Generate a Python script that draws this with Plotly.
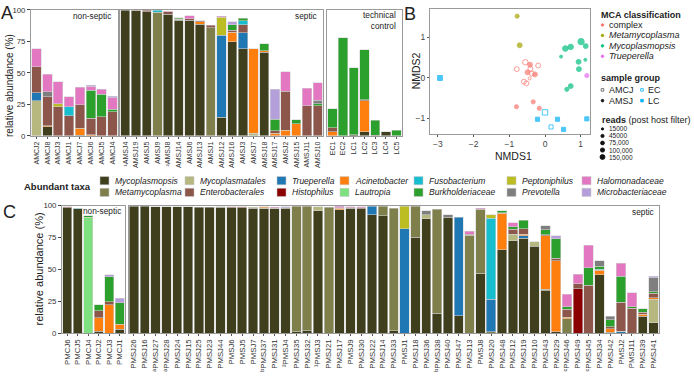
import plotly.graph_objects as go

W, H = 694, 376
FONT = "Liberation Sans, Arial, Helvetica, sans-serif"

def px(x):
    return x / W

def py(y):
    return 1 - y / H

# ---------------- taxa ----------------
STACK_ORDER = ["Mycoplasmopsis", "Metamycoplasma", "Mycoplasmatales", "Trueperella", "Histophilus",
               "Acinetobacter", "Enterobacterales", "Fusobacterium", "Lautropia", "Burkholderiaceae",
               "Peptoniphilus", "Prevotella", "Halomonadaceae", "Microbacteriaceae"]
TAXON_COLORS = {
    "Mycoplasmopsis": "#3f3f1e", "Metamycoplasma": "#7f7f4c", "Mycoplasmatales": "#b6b880",
    "Enterobacterales": "#8c564b", "Trueperella": "#1f77b4", "Histophilus": "#8b0000",
    "Acinetobacter": "#ff7f0e", "Lautropia": "#7fe07f", "Fusobacterium": "#17becf",
    "Burkholderiaceae": "#2ca02c", "Peptoniphilus": "#bcbd22", "Prevotella": "#7f7f7f",
    "Halomonadaceae": "#e377c2", "Microbacteriaceae": "#b59fdb",
}
LEGEND_ROW1 = ["Mycoplasmopsis", "Mycoplasmatales", "Trueperella", "Acinetobacter", "Fusobacterium", "Peptoniphilus", "Halomonadaceae"]
LEGEND_ROW2 = ["Metamycoplasma", "Enterobacterales", "Histophilus", "Lautropia", "Burkholderiaceae", "Prevotella", "Microbacteriaceae"]

# ---------------- panel A data ----------------
A_nonseptic_samples = ["AMCJ2", "AMCJ8", "AMCJ3", "AMCJ1", "AMCJ7", "AMCJ6", "AMCJ5", "AMCJ4"]
A_nonseptic_comp = [
    {"Mycoplasmatales": 28, "Trueperella": 6, "Enterobacterales": 21, "Halomonadaceae": 14},
    {"Mycoplasmopsis": 7, "Acinetobacter": 0.8, "Enterobacterales": 23, "Prevotella": 4, "Halomonadaceae": 14},
    {"Enterobacterales": 23, "Peptoniphilus": 2.5, "Halomonadaceae": 17.5},
    {"Enterobacterales": 16, "Fusobacterium": 7, "Halomonadaceae": 8},
    {"Mycoplasmopsis": 0.5, "Acinetobacter": 5.5, "Enterobacterales": 18.5, "Halomonadaceae": 14},
    {"Acinetobacter": 1, "Enterobacterales": 13, "Burkholderiaceae": 22, "Halomonadaceae": 3.5, "Microbacteriaceae": 0.5},
    {"Enterobacterales": 15, "Burkholderiaceae": 18, "Halomonadaceae": 4},
    {"Enterobacterales": 19, "Burkholderiaceae": 2, "Halomonadaceae": 9, "Microbacteriaceae": 1.5},
]
A_septic_samples = ["¹AMSJ4", "AMSJ19", "AMSJ5", "AMSJ9", "²AMSJ8", "AMSJ14", "AMSJ6", "AMSJ13", "AMSJ1", "AMSJ12",
                    "AMSJ16", "AMSJ3", "AMSJ7", "AMSJ18", "AMSJ17", "AMSJ2", "AMSJ15", "AMSJ11", "AMSJ10"]
A_septic_comp = [
    {"Mycoplasmopsis": 99.5},
    {"Mycoplasmopsis": 99.2, "Enterobacterales": 0.5},
    {"Mycoplasmopsis": 98.5, "Enterobacterales": 1.0},
    {"Metamycoplasma": 98.2, "Fusobacterium": 1.5},
    {"Mycoplasmopsis": 96.5, "Enterobacterales": 2, "Halomonadaceae": 0.5},
    {"Mycoplasmopsis": 91.8, "Mycoplasmatales": 0.8, "Enterobacterales": 0.5, "Burkholderiaceae": 0.8},
    {"Mycoplasmopsis": 91.8, "Enterobacterales": 1, "Halomonadaceae": 2.5},
    {"Mycoplasmopsis": 88.4, "Acinetobacter": 2.3, "Enterobacterales": 0.5},
    {"Metamycoplasma": 85.8, "Enterobacterales": 2},
    {"Mycoplasmopsis": 14.7, "Trueperella": 65.2, "Peptoniphilus": 14.2, "Halomonadaceae": 0.8},
    {"Mycoplasmopsis": 74.7, "Acinetobacter": 7.5, "Enterobacterales": 1.5, "Burkholderiaceae": 4.5, "Microbacteriaceae": 2.5},
    {"Mycoplasmopsis": 69, "Trueperella": 12.7, "Enterobacterales": 6.4, "Fusobacterium": 3.4, "Burkholderiaceae": 1.8},
    {"Mycoplasmatales": 2, "Acinetobacter": 67},
    {"Mycoplasmopsis": 66.2, "Acinetobacter": 1.3, "Burkholderiaceae": 5.4},
    {"Acinetobacter": 2, "Enterobacterales": 2, "Burkholderiaceae": 9, "Microbacteriaceae": 24},
    {"Acinetobacter": 4.4, "Enterobacterales": 31, "Halomonadaceae": 15.5},
    {"Acinetobacter": 9.5, "Burkholderiaceae": 3.3},
    {"Enterobacterales": 23.7, "Halomonadaceae": 14.2},
    {"Enterobacterales": 23.7, "Burkholderiaceae": 1.8, "Prevotella": 2.8, "Halomonadaceae": 14},
]
A_control_samples = ["EC1", "EC2", "LC1", "LC2", "LC3", "LC4", "LC5"]
A_control_comp = [
    {"Acinetobacter": 3, "Enterobacterales": 3.2, "Burkholderiaceae": 15.2},
    {"Burkholderiaceae": 77.8},
    {"Mycoplasmopsis": 1, "Burkholderiaceae": 53},
    {"Mycoplasmopsis": 3, "Acinetobacter": 25, "Enterobacterales": 0.5, "Burkholderiaceae": 40},
    {"Mycoplasmopsis": 0.5, "Burkholderiaceae": 11.7},
    {"Mycoplasmopsis": 3.1},
    {"Burkholderiaceae": 4.4},
]

# ---------------- panel C data ----------------
C_nonseptic_samples = ["PMCJ6", "PMCJ5", "PMCJ4", "PMCJ2", "PMCJ3", "PMCJ1"]
C_nonseptic_comp = [
    {"Mycoplasmopsis": 98.3, "Enterobacterales": 1},
    {"Mycoplasmopsis": 97.5, "Fusobacterium": 0.5},
    {"Lautropia": 91, "Burkholderiaceae": 1},
    {"Mycoplasmopsis": 1.5, "Acinetobacter": 10.5, "Enterobacterales": 5.5, "Burkholderiaceae": 4.7},
    {"Acinetobacter": 22.4, "Enterobacterales": 2.3, "Burkholderiaceae": 19.7, "Microbacteriaceae": 1.5},
    {"Mycoplasmopsis": 3.3, "Acinetobacter": 3.8, "Burkholderiaceae": 16.9, "Microbacteriaceae": 3.3},
]
C_septic_samples = ["PMSJ26", "PMSJ16", "ᵃPMSJ27", "ᵃPMSJ28", "PMSJ24", "PMSJ15", "PMSJ25", "PMSJ23", "PMSJ44",
                    "PMSJ6", "PMSJ5", "PMSJ7", "ᵇPMSJ37", "PMSJ31", "²PMSJ4", "PMSJ35", "PMSJ32", "¹PMSJ3",
                    "PMSJ21", "PMSJ17", "PMSJ9", "PMSJ30", "PMSJ22", "PMSJ14", "PMSJ33", "PMSJ1", "PMSJ18",
                    "PMSJ36", "ᵇPMSJ38", "PMSJ40", "PMSJ47", "PMSJ13", "PMSJ8", "PMSJ20", "PMSJ48", "PMSJ12",
                    "PMSJ19", "PMSJ10", "PMSJ43", "PMSJ29", "ᶜPMSJ46", "PMSJ49", "ᶜPMSJ45", "PMSJ34", "PMSJ42",
                    "PMSJ2", "PMSJ11", "PMSJ39", "PMSJ41"]
C_septic_comp = [
    {"Mycoplasmopsis": 99.5},
    {"Mycoplasmopsis": 99.5},
    {"Mycoplasmopsis": 99.3},
    {"Mycoplasmopsis": 99.3},
    {"Mycoplasmopsis": 99.2},
    {"Mycoplasmopsis": 99.2},
    {"Mycoplasmopsis": 99.0},
    {"Mycoplasmopsis": 99.0},
    {"Mycoplasmopsis": 98.8, "Enterobacterales": 0.4},
    {"Mycoplasmopsis": 98.6, "Enterobacterales": 0.6},
    {"Mycoplasmopsis": 98.6, "Enterobacterales": 0.5},
    {"Mycoplasmopsis": 98.0, "Mycoplasmatales": 1.0},
    {"Mycoplasmopsis": 97.8, "Mycoplasmatales": 0.8, "Acinetobacter": 0.5},
    {"Mycoplasmopsis": 97.5, "Enterobacterales": 0.5, "Halomonadaceae": 1.0},
    {"Mycoplasmopsis": 98.0, "Trueperella": 0.6, "Microbacteriaceae": 0.5},
    {"Mycoplasmopsis": 1, "Metamycoplasma": 98.8},
    {"Mycoplasmopsis": 2, "Metamycoplasma": 97.5},
    {"Mycoplasmopsis": 96.0, "Mycoplasmatales": 3.2},
    {"Metamycoplasma": 99},
    {"Mycoplasmopsis": 97.0, "Acinetobacter": 1.0, "Burkholderiaceae": 0.5, "Halomonadaceae": 1.0},
    {"Mycoplasmopsis": 98.0, "Acinetobacter": 0.4, "Halomonadaceae": 1.0},
    {"Mycoplasmopsis": 97.8, "Enterobacterales": 0.8, "Halomonadaceae": 0.8},
    {"Mycoplasmopsis": 93.1, "Trueperella": 6.4},
    {"Mycoplasmopsis": 92.3, "Metamycoplasma": 7.2},
    {"Mycoplasmopsis": 2, "Metamycoplasma": 96},
    {"Trueperella": 82, "Peptoniphilus": 17.5},
    {"Mycoplasmopsis": 75.3, "Metamycoplasma": 24.2},
    {"Mycoplasmopsis": 89.8, "Mycoplasmatales": 3.3, "Prevotella": 2.8},
    {"Mycoplasmopsis": 15.8, "Metamycoplasma": 81.4},
    {"Mycoplasmopsis": 90.8, "Prevotella": 2.1},
    {"Mycoplasmopsis": 13.8, "Trueperella": 77.2},
    {"Metamycoplasma": 77, "Enterobacterales": 0.8, "Halomonadaceae": 2.2},
    {"Mycoplasmopsis": 47.2, "Metamycoplasma": 50, "Halomonadaceae": 0.8},
    {"Metamycoplasma": 1, "Trueperella": 25.5, "Fusobacterium": 63.8, "Peptoniphilus": 2.5},
    {"Mycoplasmopsis": 65.6, "Acinetobacter": 28.4, "Enterobacterales": 0.5, "Burkholderiaceae": 1.7},
    {"Mycoplasmopsis": 72.7, "Mycoplasmatales": 4.9, "Enterobacterales": 3.8, "Burkholderiaceae": 2, "Halomonadaceae": 3.3},
    {"Mycoplasmopsis": 74.7, "Trueperella": 1.8, "Acinetobacter": 1.3, "Enterobacterales": 4.3, "Burkholderiaceae": 6.4},
    {"Mycoplasmopsis": 68.1, "Mycoplasmatales": 3.8},
    {"Mycoplasmopsis": 33.2, "Metamycoplasma": 1.2, "Acinetobacter": 42.1, "Enterobacterales": 0.8, "Burkholderiaceae": 3.8, "Prevotella": 3.1},
    {"Mycoplasmopsis": 1, "Acinetobacter": 56, "Enterobacterales": 2, "Burkholderiaceae": 15.3, "Microbacteriaceae": 2},
    {"Metamycoplasma": 11.2, "Acinetobacter": 1.3, "Enterobacterales": 6.4, "Burkholderiaceae": 2, "Halomonadaceae": 9.5},
    {"Histophilus": 35, "Enterobacterales": 3.8, "Halomonadaceae": 7.6},
    {"Enterobacterales": 37.5, "Burkholderiaceae": 14, "Halomonadaceae": 17.4},
    {"Mycoplasmopsis": 45.7, "Acinetobacter": 3.8, "Fusobacterium": 0.7, "Burkholderiaceae": 2.5, "Prevotella": 4.1},
    {"Mycoplasmopsis": 0.8, "Acinetobacter": 2.8, "Enterobacterales": 1.5, "Burkholderiaceae": 5.6, "Prevotella": 2.6},
    {"Trueperella": 1, "Acinetobacter": 0.5, "Enterobacterales": 22.7, "Burkholderiaceae": 20.5, "Halomonadaceae": 10.2},
    {"Enterobacterales": 19.6, "Burkholderiaceae": 1.3, "Halomonadaceae": 10.7},
    {"Mycoplasmopsis": 13.3, "Acinetobacter": 1.7, "Enterobacterales": 1.6, "Burkholderiaceae": 2.5},
    {"Mycoplasmopsis": 8.2, "Mycoplasmatales": 18.6, "Acinetobacter": 1, "Enterobacterales": 3.6, "Burkholderiaceae": 1, "Prevotella": 11, "Microbacteriaceae": 1.2},
]

# ---------------- panel B data ----------------
MCA_CLASSES = ["complex", "Metamycoplasma", "Mycoplasmopsis", "Trueperella"]
MCA_COLORS = {"complex": "#f8766d", "Metamycoplasma": "#a3a500", "Mycoplasmopsis": "#00bf7d",
              "Trueperella": "#e76bf3", "control": "#00b0f6"}
nmds1 = [-0.78, -0.71,
         0.57, 0.72, 1.01, 1.14, 0.45, 1.13, 0.94, 0.95, 0.72, 0.61,
         1.17,
         -0.42, -0.49, -0.28, -0.33, -0.80, -0.16,
         -0.55, -0.19, -0.79, -0.41, -0.37, -0.59, -0.52, -0.43,
         0.00, 0.17,
         -2.94, -0.21, 0.35, 0.52, 1.17]
nmds2 = [1.52, 0.80,
         0.72, 0.76, 0.89, 0.78, 0.52, 0.44, 0.39, 0.21, -0.21, -0.29,
         0.05,
         0.32, 0.13, 0.08, -0.60, -0.72, -0.76,
         0.38, 0.30, 0.21, 0.22, 0.10, -0.10, -0.14, -0.02,
         -0.86, -1.22,
         -0.01, -1.03, -1.03, -1.28, -1.02]
nmds_class = (["Metamycoplasma"] * 2 + ["Mycoplasmopsis"] * 10 + ["Trueperella"] + ["complex"] * 6
              + ["complex"] * 8 + ["control"] * 2 + ["control"] * 5)
nmds_group = (["AMSJ"] * 19 + ["AMCJ"] * 8 + ["EC"] * 2 + ["LC"] * 5)
nmds_reads = [45000, 75000,
              110000, 100000, 150000, 75000, 15000, 15000, 75000, 75000, 75000, 45000,
              45000,
              75000, 75000, 75000, 45000, 45000, 45000,
              100000, 75000, 75000, 75000, 75000, 75000, 75000, 15000,
              100000, 45000,
              75000, 45000, 45000, 45000, 45000]
READ_LEVELS = [15000, 45000, 75000, 100000, 150000]
READ_LABELS = ["15000", "45000", "75,000", "100,000", "150,000"]
GROUP_SYMBOL = {"AMCJ": "circle-open", "AMSJ": "circle", "EC": "square-open", "LC": "square"}


def read_size(r):
    return 1.5 + 4.8 * (r / 150000) ** 0.5


fig = go.Figure()


def add_bars(samples, comps, xa, ya):
    for t in STACK_ORDER:
        vals = [c.get(t) for c in comps]
        if all(v is None for v in vals):
            continue
        fig.add_trace(go.Bar(
            x=samples, y=vals, xaxis=xa, yaxis=ya, showlegend=False, hoverinfo="skip",
            marker=dict(color=TAXON_COLORS[t], line=dict(color="rgba(210,210,210,0.9)", width=0.6)),
        ))


add_bars(A_nonseptic_samples, A_nonseptic_comp, "x", "y")
add_bars(A_septic_samples, A_septic_comp, "x2", "y2")
add_bars(A_control_samples, A_control_comp, "x3", "y3")
add_bars(C_nonseptic_samples, C_nonseptic_comp, "x5", "y5")
add_bars(C_septic_samples, C_septic_comp, "x6", "y6")

# NMDS scatter
fig.add_trace(go.Scatter(
    x=nmds1, y=nmds2, xaxis="x4", yaxis="y4", mode="markers", showlegend=False, hoverinfo="skip",
    marker=dict(color=[MCA_COLORS[c] for c in nmds_class],
                symbol=[GROUP_SYMBOL[g] for g in nmds_group],
                size=[read_size(r) for r in nmds_reads],
                line=dict(width=1, color=[MCA_COLORS[c] for c in nmds_class])),
))

tickfont_xa = dict(family=FONT, size=7, color="#333")
tickfont_xc = dict(family=FONT, size=7.8, color="#333")
tickfont_y = dict(family=FONT, size=7.8, color="#333")
FRAME = "#9a9a9a"


def bar_x(domain, samples, font):
    return dict(domain=domain, type="category", categoryorder="array", categoryarray=samples,
                tickangle=-90, tickfont=font, showline=True, linecolor=FRAME, linewidth=1, mirror=True,
                ticks="outside", ticklen=2, tickcolor="#555", showgrid=False, zeroline=False, fixedrange=True)


def bar_y(domain, anchor, labels=True):
    return dict(domain=domain, anchor=anchor, range=[0, 100], tickvals=[0, 25, 50, 75, 100],
                showticklabels=labels, ticks="outside" if labels else "", ticklen=3, tickcolor="#444",
                tickfont=tickfont_y, showline=True, linecolor=FRAME, linewidth=1, mirror=True,
                showgrid=False, zeroline=False, fixedrange=True)


A_dom = [py(135), py(6)]
C_dom = [py(337.3), py(206.7)]
fig.update_layout(
    width=W, height=H, margin=dict(l=0, r=0, t=0, b=0),
    paper_bgcolor="white", plot_bgcolor="white",
    barmode="stack", bargap=0.13,
    font=dict(family=FONT, color="#222"),
    xaxis=dict(**bar_x([px(31), px(118)], A_nonseptic_samples, tickfont_xa), anchor="y"),
    yaxis=bar_y(A_dom, "x"),
    xaxis2=dict(**bar_x([px(120), px(323)], A_septic_samples, tickfont_xa), anchor="y2"),
    yaxis2=bar_y(A_dom, "x2", False),
    xaxis3=dict(**bar_x([px(327), px(402)], A_control_samples, tickfont_xa), anchor="y3"),
    yaxis3=bar_y(A_dom, "x3", False),
    xaxis5=dict(**bar_x([px(62), px(125)], C_nonseptic_samples, tickfont_xc), anchor="y5"),
    yaxis5=bar_y(C_dom, "x5"),
    xaxis6=dict(**bar_x([px(128.5), px(659)], C_septic_samples, tickfont_xc), anchor="y6"),
    yaxis6=bar_y(C_dom, "x6", False),
    xaxis4=dict(domain=[px(430), px(590)], anchor="y4", range=[-3.22, 1.26], tickvals=[-3, -2, -1, 0, 1],
                ticks="outside", ticklen=2, tickcolor="#555", tickfont=dict(family=FONT, size=8.5, color="#444"),
                showline=True, linecolor=FRAME, mirror=True, showgrid=False, zeroline=False),
    yaxis4=dict(domain=[py(133), py(5)], anchor="x4", range=[-1.39, 1.70], tickvals=[-1, 0, 1],
                ticks="outside", ticklen=2, tickcolor="#555", tickfont=dict(family=FONT, size=8.5, color="#444"),
                showline=True, linecolor=FRAME, mirror=True, showgrid=False, zeroline=False),
)

annotations = []
shapes = []


def ann(text, x, y, size, xanchor="left", yanchor="middle", angle=0, color="#222", align="left"):
    annotations.append(dict(text=text, x=px(x), y=py(y), xref="paper", yref="paper", showarrow=False,
                            xanchor=xanchor, yanchor=yanchor, textangle=angle, align=align,
                            font=dict(family=FONT, size=size, color=color)))


# panel letters
ann("A", -1.5, 9, 18)
ann("B", 402, 10, 18)
ann("C", 1, 213, 18)

# axis titles
ann("relative abundance (%)", 10, 84, 10, xanchor="center", angle=-90)
ann("relative abundance (%)", 39, 272, 11, xanchor="center", angle=-90)
ann("NMDS1", 513, 156, 10.5, xanchor="center")
ann("NMDS2", 416, 69, 10.5, xanchor="center", angle=-90)

# panel subtitles
ann("non-septic", 113, 12.5, 8.3, xanchor="right")
ann("septic", 319, 12.5, 8.3, xanchor="right")
ann("technical<br>control", 398, 17, 8.3, xanchor="right", align="right")
ann("non-septic", 123, 212.5, 8.3, xanchor="right")
ann("septic", 656, 213, 8.3, xanchor="right")

# abundant taxa legend
ann("<b>Abundant taxa</b>", 93, 187, 9.5, xanchor="right")
col_x = [100, 185, 277, 340, 414, 507, 582]
for row, yc in ((LEGEND_ROW1, 181), (LEGEND_ROW2, 193)):
    for t, cx in zip(row, col_x):
        shapes.append(dict(type="rect", xref="paper", yref="paper", x0=px(cx), x1=px(cx + 9),
                           y0=py(yc + 4.2), y1=py(yc - 4.2), fillcolor=TAXON_COLORS[t],
                           line=dict(color="rgba(200,200,200,0.9)", width=0.6)))
        ann("<i>" + t + "</i>", cx + 13, yc, 8.5)


def marker_shape(cx, cy, d, color, kind, filled):
    shapes.append(dict(type="circle" if kind == "circle" else "rect", xref="paper", yref="paper",
                       x0=px(cx - d / 2), x1=px(cx + d / 2), y0=py(cy + d / 2), y1=py(cy - d / 2),
                       fillcolor=color if filled else "rgba(0,0,0,0)",
                       line=dict(color=color, width=0.8)))


# NMDS legend
ann("<b>MCA classification</b>", 599, 11, 9)
for i, c in enumerate(MCA_CLASSES):
    yc = 21.5 + i * 10.7
    marker_shape(602.5, yc, 2.6, MCA_COLORS[c], "circle", True)
    ann(c if c == "complex" else "<i>" + c + "</i>", 607, yc, 9)
ann("<b>sample group</b>", 599, 76, 9)
marker_shape(602.5, 88, 2.6, "#555", "square", False)
ann("AMCJ", 607, 88, 9)
marker_shape(602.5, 99, 2.6, "#111", "circle", True)
ann("AMSJ", 607, 99, 9)
marker_shape(642, 88, 2.6, MCA_COLORS["control"], "square", False)
ann("EC", 646, 88, 9)
marker_shape(642, 99, 2.6, MCA_COLORS["control"], "square", True)
ann("LC", 646, 99, 9)
ann("<b>reads</b> (post host filter)", 600, 119, 9)
for i, (r, lab) in enumerate(zip(READ_LEVELS, READ_LABELS)):
    yc = 128 + i * 7.2
    marker_shape(602.5, yc, read_size(r) * 0.8, "#111", "circle", True)
    ann(lab, 607, yc, 6.5)

fig.update_layout(annotations=annotations, shapes=shapes)
fig.write_html("out.html")
